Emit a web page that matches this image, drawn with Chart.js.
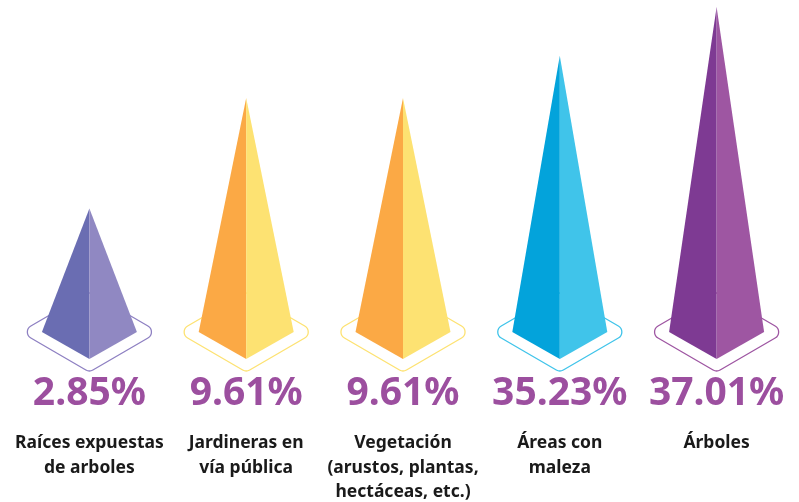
<!DOCTYPE html>
<html>
<head>
<meta charset="utf-8">
<script src="https://cdn.jsdelivr.net/npm/chart.js@4"></script>
<style>
  html, body { margin: 0; background: #fff; }
  #wrap { width: 799px; height: 502px; }
</style>
</head>
<body>
<div id="wrap"><canvas id="pyramidChart"></canvas></div>
<script>
const categories = [
  ['Raíces expuestas', 'de arboles'],
  ['Jardineras en', 'vía pública'],
  ['Vegetación', '(arustos, plantas,', 'hectáceas, etc.)'],
  ['Áreas con', 'maleza'],
  ['Árboles']
];
const percentages = [2.85, 9.61, 9.61, 35.23, 37.01];
// pyramid height as drawn in the picture, relative to the tallest one (= 100)
const pyramidHeights = [38, 72, 72, 85, 100];

const leftColors = ['#6a6db2', '#fba945', '#fba945', '#03a3db', '#7e3a93'];
const rightColors = ['#9088c2', '#fde272', '#fde272', '#40c4ea', '#9e56a2'];
const outlineColors = ['#8e80c2', '#fde272', '#fde272', '#40c4ea', '#9e56a2'];
const percentColor = '#9c4f9f';

function roundedDiamond(ctx, cx, cy, w, h, r) {
  ctx.beginPath();
  ctx.moveTo(cx - w / 2, cy + h / 2);
  ctx.arcTo(cx, cy + h, cx + w, cy, r);
  ctx.arcTo(cx + w, cy, cx, cy - h, r);
  ctx.arcTo(cx, cy - h, cx - w, cy, r);
  ctx.arcTo(cx - w, cy, cx, cy + h, r);
  ctx.closePath();
}

const pyramidPlugin = {
  id: 'pyramids',
  afterDatasetsDraw(chart) {
    const ctx = chart.ctx;
    const meta = chart.getDatasetMeta(0);
    const base = chart.scales.y.getPixelForValue(0);
    ctx.save();
    meta.data.forEach((bar, i) => {
      const cx = bar.x, top = bar.y;

      // outline under the pyramid
      roundedDiamond(ctx, cx, base, 69, 40, 7);
      ctx.fillStyle = '#fff';
      ctx.fill();
      ctx.lineWidth = 1.3;
      ctx.strokeStyle = outlineColors[i];
      ctx.stroke();

      // left face
      ctx.fillStyle = leftColors[i];
      ctx.beginPath();
      ctx.moveTo(cx, top);
      ctx.lineTo(cx - 47.5, base);
      ctx.lineTo(cx, base + 27);
      ctx.closePath();
      ctx.fill();

      // right face
      ctx.fillStyle = rightColors[i];
      ctx.beginPath();
      ctx.moveTo(cx, top);
      ctx.lineTo(cx, base + 27);
      ctx.lineTo(cx + 47.5, base);
      ctx.closePath();
      ctx.fill();

      // percentage
      ctx.fillStyle = percentColor;
      ctx.font = 'bold 39px "Noto Sans"';
      ctx.textAlign = 'center';
      ctx.textBaseline = 'alphabetic';
      ctx.fillText(percentages[i].toFixed(2) + '%', cx, base + 73);
    });
    ctx.restore();
  }
};

new Chart(document.getElementById('pyramidChart'), {
  type: 'bar',
  data: {
    labels: categories,
    datasets: [{
      data: pyramidHeights,
      backgroundColor: 'rgba(0,0,0,0)',
      borderWidth: 0
    }]
  },
  options: {
    responsive: true,
    maintainAspectRatio: false,
    animation: false,
    layout: { padding: { left: 11, right: 4, top: 7, bottom: 0 } },
    plugins: {
      legend: { display: false },
      tooltip: { enabled: false }
    },
    scales: {
      y: { display: false, min: 0, max: 100 },
      x: {
        grid: { display: false },
        border: { display: false },
        afterFit: (scale) => {
          scale.height = 170;
          scale.paddingLeft = 0;
          scale.paddingRight = 0;
        },
        ticks: {
          padding: 91,
          autoSkip: false,
          maxRotation: 0,
          color: '#1a1a1a',
          font: { family: '"Noto Sans"', size: 17.5, weight: 'bold', lineHeight: 1.4 }
        }
      }
    }
  },
  plugins: [pyramidPlugin]
});
</script>
</body>
</html>
